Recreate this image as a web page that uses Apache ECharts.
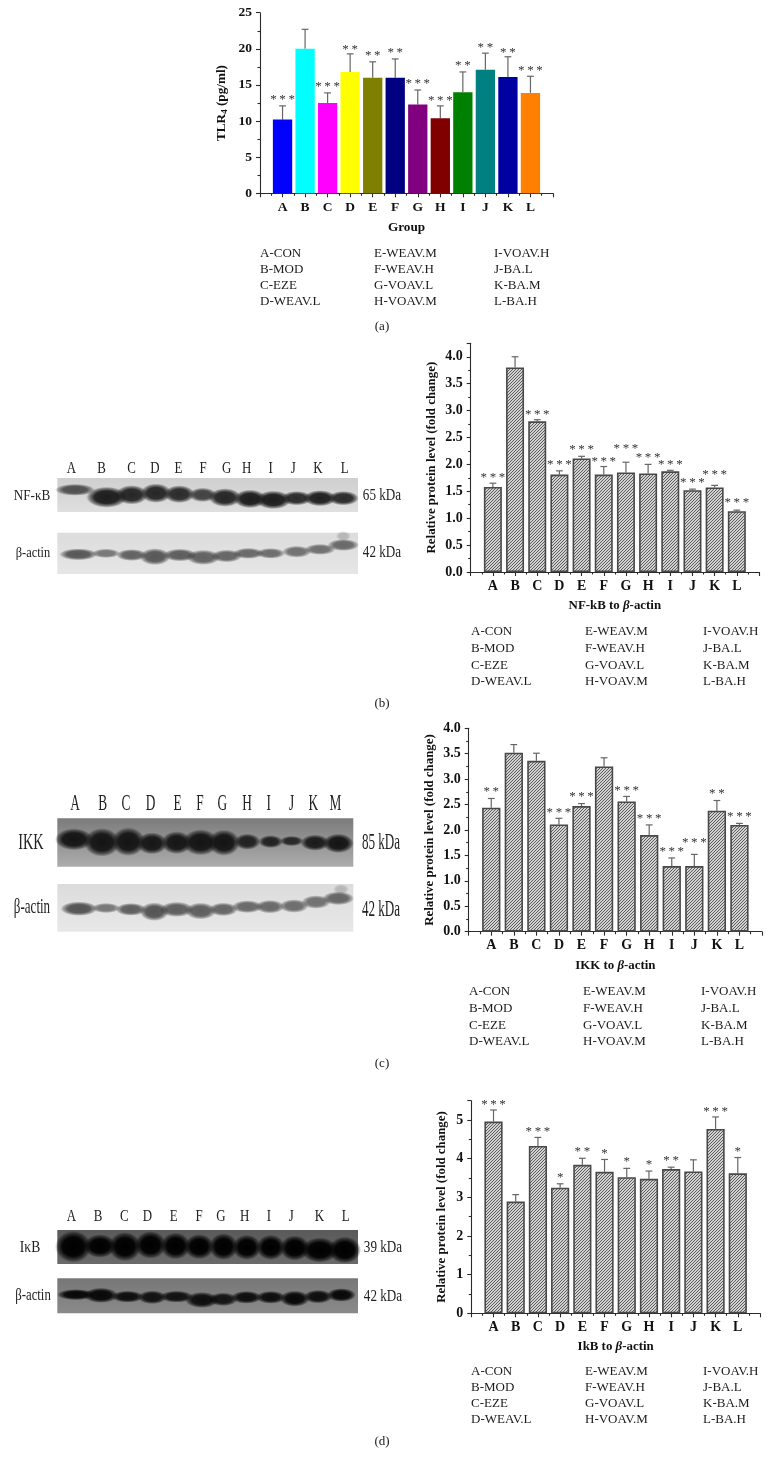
<!DOCTYPE html>
<html>
<head>
<meta charset="utf-8">
<style>html,body{margin:0;padding:0;background:#fff}#c{width:770px;height:1470px}</style>
<script src="https://cdn.jsdelivr.net/npm/echarts@6/dist/echarts.min.js"></script>
</head>
<body>
<div id="c"></div>
<script>
// ---------- data ----------
const categories = ['A','B','C','D','E','F','G','H','I','J','K','L'];
const legendCol1 = ['A-CON','B-MOD','C-EZE','D-WEAV.L'];
const legendCol2 = ['E-WEAV.M','F-WEAV.H','G-VOAV.L','H-VOAV.M'];
const legendCol3 = ['I-VOAV.H','J-BA.L','K-BA.M','L-BA.H'];

const tlrValues = [10.2,20.0,12.5,16.8,16.0,16.0,12.3,10.4,14.0,17.1,16.1,13.9];
const tlrErrTop = [12.1,22.7,13.9,19.3,18.2,18.6,14.3,12.1,16.8,19.4,18.9,16.2];
const tlrStars  = [3,0,3,2,2,2,3,3,2,2,2,3];
const tlrStarAt = [13.2,null,15.1,20.2,19.3,19.7,15.4,13.1,17.9,20.4,19.8,17.3];
const tlrColors = ['#0000ff','#00ffff','#ff00ff','#ffff00','#808000','#000080','#800080','#800000','#008000','#008080','#0000a0','#ff8000'];

const nfValues = [1.58,3.80,2.80,1.81,2.11,1.81,1.85,1.83,1.87,1.52,1.57,1.13];
const nfErrTop = [1.65,4.00,2.83,1.88,2.15,1.96,2.04,2.00,1.89,1.54,1.61,1.15];
const nfStars  = [3,0,3,3,3,3,3,3,3,3,3,3];
const nfStarAt = [1.80,null,2.97,2.03,2.31,2.08,2.33,2.16,2.04,1.69,1.84,1.33];

const ikkValues = [2.44,3.52,3.36,2.11,2.47,3.25,2.56,1.90,1.29,1.29,2.38,2.10];
const ikkErrTop = [2.62,3.68,3.51,2.23,2.52,3.42,2.66,2.10,1.45,1.52,2.58,2.13];
const ikkStars  = [2,0,0,3,3,0,3,3,3,3,2,3];
const ikkStarAt = [2.79,null,null,2.39,2.69,null,2.82,2.26,1.61,1.80,2.75,2.30];

const ikbValues = [4.96,2.89,4.33,3.25,3.84,3.66,3.52,3.48,3.73,3.67,4.77,3.62];
const ikbErrTop = [5.26,3.07,4.55,3.35,4.01,3.98,3.75,3.68,3.78,3.97,5.08,4.03];
const ikbStars  = [3,0,3,1,2,1,1,1,2,0,3,1];
const ikbStarAt = [5.45,null,4.75,3.56,4.24,4.19,3.97,3.89,4.00,null,5.28,4.23];

// blot bands: lane position, vertical position, width, height (densitometry units), density
const nfBands = [[135,120,88,28,.72],[230,142,90,50,1],[305,135,72,46,.95],[378,130,68,46,.95],[448,133,68,42,.92],[518,135,62,34,.8],[585,143,72,44,.95],[660,147,72,44,1],[730,150,78,44,1],[800,145,68,34,.92],[870,145,72,38,.98],[940,145,68,34,.92]];
const nfActinBands = [[145,313,84,28,.78],[228,310,62,22,.6],[305,315,68,28,.72],[375,320,68,40,.78],[450,315,74,30,.75],[520,322,74,36,.72],[590,318,68,30,.7],[655,310,68,26,.68],[722,310,64,25,.66],[800,305,64,28,.64],[870,298,68,26,.64],[940,285,70,28,.68],[940,258,32,24,.22]];
const ikkBands = [[132,178,84,52,1],[216,187,80,68,1],[295,185,74,68,1],[366,190,68,52,.98],[440,188,68,54,.98],[512,187,80,62,1],[582,188,70,62,1],[652,185,58,38,.9],[722,185,54,30,.9],[785,183,52,24,.85],[855,188,64,38,.95],[925,190,68,46,1]];
const ikkActinBands = [[147,386,82,34,.8],[228,384,62,24,.6],[303,388,68,30,.74],[373,395,64,44,.8],[440,388,74,36,.74],[512,393,68,40,.74],[580,388,64,32,.7],[652,380,68,30,.68],[720,380,64,32,.68],[792,378,64,32,.66],[858,366,64,32,.64],[925,355,70,32,.7],[933,328,34,24,.22]];
const ikbBands = [[130,320,80,76,1],[210,318,72,56,1],[285,320,72,70,1],[362,315,70,66,1],[437,318,66,64,1],[508,320,66,60,1],[581,320,64,64,1],[651,322,64,60,1],[723,322,64,60,1],[795,324,66,60,1],[870,330,82,60,1],[945,330,72,64,1]];
const ikbActinBands = [[138,464,84,26,1],[213,466,76,36,1],[293,470,72,28,.95],[367,472,64,32,.92],[440,470,74,28,.92],[516,480,74,38,.95],[580,478,64,32,.9],[650,472,68,30,.95],[723,472,66,30,.95],[795,476,66,38,1],[865,470,64,32,.95],[935,465,64,32,1]];

// ---------- layout ----------
const SERIF = '"Liberation Serif","Times New Roman",serif';
const chartPanels = [
 {name:'{a|TLR}{s|4}{a| (pg/ml)}',title:'{a|Group}',values:tlrValues,err:tlrErrTop,stars:tlrStars,starAt:tlrStarAt,colors:tlrColors,
  left:260,right:553,top:12.7,bottom:193.3,max:25,interval:5,fmt:0,barW:19.3,xGap:28,yGap:31,tick:13.5,nameSize:13.2},
 {name:'{a|Relative protein level (fold change)}',title:'{a|NF-kB to }{b|β}{a|-actin}',values:nfValues,err:nfErrTop,stars:nfStars,starAt:nfStarAt,
  left:470.7,right:759,top:343.3,bottom:572,max:4.25,interval:.5,fmt:1,barW:18,xGap:27,yGap:33,tick:14,nameSize:12.9},
 {name:'{a|Relative protein level (fold change)}',title:'{a|IKK to }{b|β}{a|-actin}',values:ikkValues,err:ikkErrTop,stars:ikkStars,starAt:ikkStarAt,
  left:468.7,right:762,top:728.3,bottom:931.7,max:4,interval:.5,fmt:1,barW:18.3,xGap:27,yGap:33,tick:14,nameSize:12.9},
 {name:'{a|Relative protein level (fold change)}',title:'{a|IkB to }{b|β}{a|-actin}',values:ikbValues,err:ikbErrTop,stars:ikbStars,starAt:ikbStarAt,
  left:471.3,right:760,top:1100.7,bottom:1313.3,max:5.5,interval:1,fmt:0,barW:18.2,xGap:27,yGap:23,tick:14,nameSize:12.9}
];
const grey = (t,b)=>({type:'linear',x:0,y:0,x2:0,y2:1,colorStops:[{offset:0,color:t},{offset:1,color:b}]});
const blotPanels = [
 {bands:nfBands,ink:'#1c1c1c',bg:grey('#cfcfcf','#dfdfdf'),x:[57.3,358],y:[478,512],ux:[82,984],uy:[85,186]},
 {bands:nfActinBands,ink:'#303030',bg:grey('#dcdcdc','#e6e6e6'),x:[57.3,358],y:[532.7,574],ux:[82,984],uy:[248,372]},
 {bands:ikkBands,ink:'#141414',bg:grey('#7c7c7c','#acacac'),x:[57.3,353.3],y:[818.3,866.7],ux:[82,970],uy:[115,260]},
 {bands:ikkActinBands,ink:'#303030',bg:grey('#dcdcdc','#e8e8e8'),x:[57.3,353.3],y:[884,931.7],ux:[82,970],uy:[312,455]},
 {bands:ikbBands,ink:'#000000',bg:grey('#5a5a5a','#6a6a6a'),x:[57.3,358],y:[1230,1264],ux:[82,985],uy:[270,372]},
 {bands:ikbActinBands,ink:'#080808',bg:grey('#777777','#8a8a8a'),x:[57.3,358],y:[1278.3,1313.3],ux:[82,985],uy:[415,520]}
];
const legendBlocks = [
 {x:[260,374,494],y:[254,270,286,302]},
 {x:[471,585,703],y:[632,649,665.5,682]},
 {x:[469,583,701],y:[992,1009,1025.5,1042]},
 {x:[471,585,703],y:[1372,1388,1404,1420]}
];
const captions = [['(a)',326.7],['(b)',704],['(c)',1064],['(d)',1442]];
const laneLabels = [
 {txt:['A','B','C','D','E','F','G','H','I','J','K','L'],at:[124,215,305,375,445,519,590,650,722,790,864,944],ox:30,y:469,size:17,sx:.76},
 {txt:['A','B','C','D','E','F','G','H','I','J','K','M'],at:[135,218,288,362,443,510,577,651,716,785,850,916],ox:30,y:804,size:23,sx:.58},
 {txt:['A','B','C','D','E','F','G','H','I','J','K','L'],at:[124,204,283,352,431,507,573,644,717,784,868,947],ox:30,y:1217,size:17,sx:.76}
];
const blotTexts = [
 ['NF-κB',32,496,15.5,.85],['65 kDa',382,496,16,.82],['β-actin',33,553,15.5,.8],['42 kDa',382,553,16,.82],
 ['IKK',31,843,23,.62],['85 kDa',381,843,23,.57],['β-actin',32,907,21,.62],['42 kDa',381,910,23,.57],
 ['IκB',30,1248,16,.85],['39 kDa',383,1248,16,.82],['β-actin',33,1296,16,.8],['42 kDa',383,1297,16,.82]
];

// ---------- textures ----------
function hatch(){
  const c=document.createElement('canvas');c.width=c.height=6;
  const g=c.getContext('2d');g.fillStyle='#d2d2d2';g.fillRect(0,0,6,6);
  g.strokeStyle='#5c5c5c';g.lineWidth=1;
  for(let i=-6;i<=12;i+=3){g.beginPath();g.moveTo(i-1,7);g.lineTo(i+7-1,0);g.stroke();}
  return c;
}
function blotSprite(ink){
  const c=document.createElement('canvas');c.width=c.height=96;
  const g=c.getContext('2d');
  const r=g.createRadialGradient(48,48,0,48,48,48);
  const rgb=parseInt(ink.slice(1),16);const p=[rgb>>16,(rgb>>8)&255,rgb&255].join(',');
  r.addColorStop(0,`rgba(${p},1)`);r.addColorStop(.6,`rgba(${p},.95)`);
  r.addColorStop(.85,`rgba(${p},.45)`);r.addColorStop(1,`rgba(${p},0)`);
  g.fillStyle=r;g.fillRect(0,0,96,96);
  return 'image://'+c.toDataURL();
}
const hatchTex = hatch();

// ---------- option ----------
const grid=[],xAxis=[],yAxis=[],series=[];
chartPanels.forEach(p=>{
  const i=grid.length;
  grid.push({left:p.left,top:p.top,width:p.right-p.left,height:p.bottom-p.top,containLabel:false});
  const line={lineStyle:{color:'#2b2b2b',width:1.1}};
  const rich={a:{fontFamily:SERIF,fontWeight:'bold',fontSize:p.nameSize,color:'#111'},
              b:{fontFamily:SERIF,fontWeight:'bold',fontStyle:'italic',fontSize:p.nameSize,color:'#111'},
              s:{fontFamily:SERIF,fontWeight:'bold',fontSize:9,color:'#111',verticalAlign:'bottom',padding:[6,0,0,0]}};
  xAxis.push({gridIndex:i,type:'value',min:0,max:13,interval:1,splitLine:{show:false},
    axisLine:{show:true,onZero:false,...line},axisTick:{show:true,length:4,...line},
    minorTick:{show:true,splitNumber:2,length:2.5,...line},minorSplitLine:{show:false},
    axisLabel:{margin:7,fontFamily:SERIF,fontWeight:'bold',fontSize:p.tick,color:'#111',
      hideOverlap:false,formatter:v=>categories[v-1]||''},
    name:p.title,nameLocation:'middle',nameGap:p.xGap,nameTextStyle:{rich}});
  yAxis.push({gridIndex:i,type:'value',min:0,max:p.max,interval:p.interval,splitLine:{show:false},
    axisLine:{show:true,...line},axisTick:{show:true,length:4,...line},
    minorTick:{show:true,splitNumber:2,length:2.5,...line},minorSplitLine:{show:false},
    axisLabel:{margin:8,showMaxLabel:p.max%p.interval===0,fontFamily:SERIF,fontWeight:'bold',fontSize:p.tick,color:'#111',
      formatter:v=>v.toFixed(p.fmt)},
    name:p.name,nameLocation:'middle',nameGap:p.yGap,nameRotate:90,nameTextStyle:{rich}});
  series.push({type:'bar',xAxisIndex:i,yAxisIndex:i,barWidth:p.barW,silent:true,animation:false,
    data:p.values.map((v,k)=>({value:[k+1,v],itemStyle:p.colors?{color:p.colors[k]}:
      {color:{image:hatchTex,repeat:'repeat'},borderColor:'#484848',borderWidth:1.6}}))});
  series.push({type:'custom',xAxisIndex:i,yAxisIndex:i,silent:true,animation:false,clip:false,
    data:p.values.map((v,k)=>[k+1,v,p.err[k]]),
    encode:{x:0,y:[1,2]},
    renderItem:(ctx,api)=>{
      const lo=api.coord([api.value(0),api.value(1)]),hi=api.coord([api.value(0),api.value(2)]);
      const st={stroke:'#666',lineWidth:1.2};
      return {type:'group',children:[
        {type:'line',shape:{x1:lo[0],y1:lo[1],x2:hi[0],y2:hi[1]},style:st},
        {type:'line',shape:{x1:hi[0]-3.4,y1:hi[1],x2:hi[0]+3.4,y2:hi[1]},style:st}]};
    }});
  series.push({type:'custom',xAxisIndex:i,yAxisIndex:i,silent:true,animation:false,clip:false,
    data:p.stars.map((n,k)=>n?[k+1,p.starAt[k],n]:null).filter(Boolean),
    encode:{x:0,y:1},
    renderItem:(ctx,api)=>{
      const c=api.coord([api.value(0),api.value(1)]);
      const n=api.value(2);
      return {type:'text',x:c[0],y:c[1]+2,style:{text:Array(n).fill('*').join('\u2009'),
        font:'13px '+SERIF,fill:'#333',textAlign:'center',textVerticalAlign:'middle'}};
    }});
});
blotPanels.forEach(b=>{
  const i=grid.length;
  grid.push({show:true,borderWidth:0,backgroundColor:b.bg,left:b.x[0],top:b.y[0],width:b.x[1]-b.x[0],height:b.y[1]-b.y[0]});
  xAxis.push({gridIndex:i,type:'value',min:b.ux[0],max:b.ux[1],show:false});
  yAxis.push({gridIndex:i,type:'value',min:b.uy[0],max:b.uy[1],inverse:true,show:false});
  series.push({type:'scatter',xAxisIndex:i,yAxisIndex:i,silent:true,animation:false,clip:true,
    symbol:blotSprite(b.ink),
    symbolSize:v=>[v[2]/3*1.35,v[3]/3*1.25],
    data:b.bands.map(d=>({value:d,itemStyle:{opacity:d[4]}}))});
});
const graphic=[];
const T=(text,x,y,o={})=>graphic.push({type:'text',silent:true,x,y,scaleX:o.sx||1,z:10,
  style:{text,font:`${o.size||13}px ${SERIF}`,fill:o.fill||'#1a1a1a',textAlign:o.align||'left',textVerticalAlign:'middle'}});
legendBlocks.forEach(b=>{
  [legendCol1,legendCol2,legendCol3].forEach((col,c)=>col.forEach((s,r)=>T(s,b.x[c],b.y[r])));
});
captions.forEach(([s,y])=>T(s,382,y,{align:'center',size:13}));
laneLabels.forEach(l=>l.txt.forEach((s,k)=>T(s,l.ox+l.at[k]/3,l.y,{align:'center',size:l.size,sx:l.sx,fill:'#222'})));
blotTexts.forEach(([s,x,y,size,sx])=>T(s,x,y,{align:'center',size,sx,fill:'#222'}));

const chart=echarts.init(document.getElementById('c'),null,{renderer:'canvas',width:770,height:1470});
chart.setOption({animation:false,backgroundColor:'#fff',grid,xAxis,yAxis,series,graphic});
</script>
</body>
</html>
